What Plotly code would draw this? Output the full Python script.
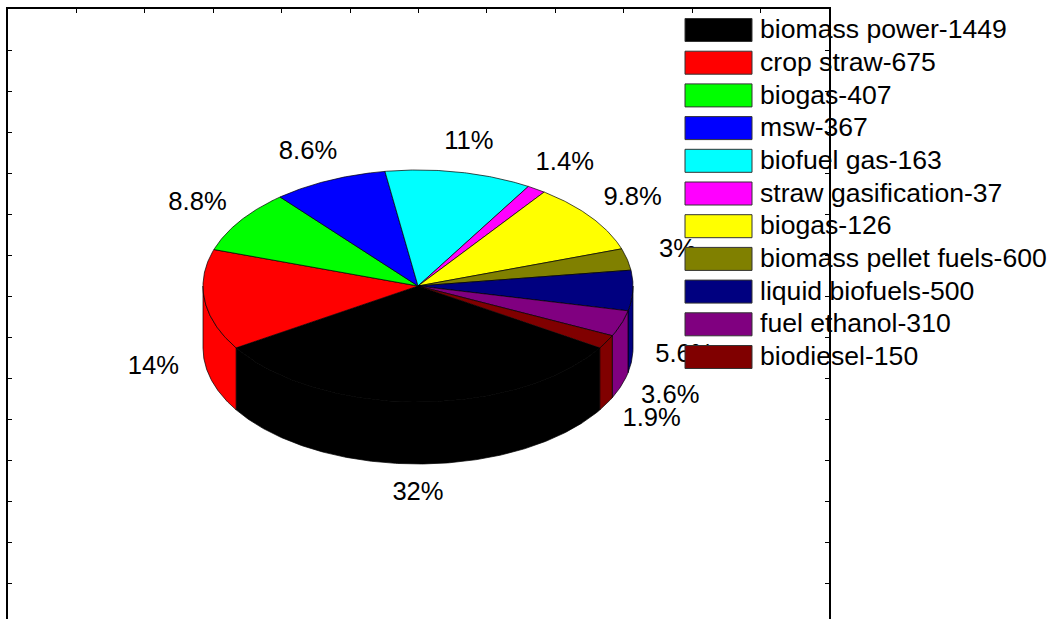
import numpy as np
import plotly.graph_objects as go

# ---------------- data ----------------
names = ["biomass power", "crop straw", "biogas", "msw", "biofuel gas",
         "straw gasification", "biogas", "biomass pellet fuels",
         "liquid biofuels", "fuel ethanol", "biodiesel"]
legend_values = [1449, 675, 407, 367, 163, 37, 126, 600, 500, 310, 150]
percent_values = [32, 14, 8.8, 8.6, 11, 1.4, 9.8, 3, 5.6, 3.6, 1.9]
percent_labels = ["32%", "14%", "8.8%", "8.6%", "11%", "1.4%", "9.8%",
                  "3%", "5.6%", "3.6%", "1.9%"]
colors = ["#000000", "#FF0000", "#00FF00", "#0000FF", "#00FFFF", "#FF00FF",
          "#FFFF00", "#808000", "#000080", "#800080", "#800000"]

# ---------------- geometry (axes in screen-pixel units) ----------------
CX, CY, A, B, H = 418, 286, 215, 116, 62
FONT = "Liberation Sans, Arial, Helvetica, sans-serif"

frac = np.array(percent_values, dtype=float) / sum(percent_values)
span = frac * 360.0
t_start = -90 + span[0] / 2
bounds = t_start - np.concatenate([[0.0], np.cumsum(span)])


def arc(t1, t2, dy=0.0, n=None):
    if n is None:
        n = max(4, int(abs(t2 - t1) * 2) + 2)
    t = np.radians(np.linspace(t1, t2, n))
    return CX + A * np.cos(t), CY - B * np.sin(t) + dy


fig = go.Figure()
EDGE = dict(color="black", width=0.7)

# side walls (front half only visible)
for i in range(len(percent_values)):
    hi, lo = bounds[i], bounds[i + 1]
    for vlo, vhi in [(-180, 0), (-540, -360)]:
        a1, a2 = max(lo, vlo), min(hi, vhi)
        if a2 - a1 <= 1e-6:
            continue
        xt, yt = arc(a2, a1)
        xb, yb = arc(a1, a2, dy=H)
        xs = np.concatenate([xt, xb, xt[:1]])
        ys = np.concatenate([yt, yb, yt[:1]])
        fig.add_trace(go.Scatter(x=xs, y=ys, mode="lines", fill="toself",
                                 fillcolor=colors[i], line=EDGE,
                                 hoverinfo="skip", showlegend=False))

# top faces
for i in range(len(percent_values)):
    hi, lo = bounds[i], bounds[i + 1]
    xa, ya = arc(hi, lo)
    xs = np.concatenate([[CX], xa, [CX]])
    ys = np.concatenate([[CY], ya, [CY]])
    fig.add_trace(go.Scatter(x=xs, y=ys, mode="lines", fill="toself",
                             fillcolor=colors[i], line=EDGE,
                             hoverinfo="skip", showlegend=False))

# percentage labels
lx, ly = [], []
for i in range(len(percent_values)):
    tm = np.radians((bounds[i] + bounds[i + 1]) / 2)
    R = 1.24
    lx.append(CX + R * A * np.cos(tm))
    ly.append(CY - R * B * np.sin(tm) + (H + 2 if np.sin(tm) < 0 else -2))
fig.add_trace(go.Scatter(x=lx, y=ly, mode="text", text=percent_labels,
                         textposition="middle center",
                         textfont=dict(family=FONT, size=25.6, color="black"),
                         cliponaxis=False, hoverinfo="skip", showlegend=False))

# legend (drawn manually, MATLAB style)
ROW0, ROWSTEP = 30, 32.7
SX0, SX1, SH = 685, 752, 23
for i in range(len(names)):
    yc = ROW0 + ROWSTEP * i
    fig.add_trace(go.Scatter(x=[SX0, SX1, SX1, SX0, SX0],
                             y=[yc - SH / 2, yc - SH / 2, yc + SH / 2, yc + SH / 2, yc - SH / 2],
                             mode="lines", fill="toself", fillcolor=colors[i],
                             line=dict(color="#333333", width=1),
                             hoverinfo="skip", showlegend=False))
leg_text = [f"{n}-{v}" for n, v in zip(names, legend_values)]
fig.add_trace(go.Scatter(x=[760] * len(names),
                         y=[ROW0 + 1.5 + ROWSTEP * i for i in range(len(names))],
                         mode="text", text=leg_text, textposition="middle right",
                         textfont=dict(family=FONT, size=26.6, color="black"),
                         cliponaxis=False, hoverinfo="skip", showlegend=False))

# plot area on screen: x 8..829, y 9..619 (bottom edge beyond view)
L, T, RGT = 8, 9, 829
W = RGT - L
fig.update_layout(
    width=1056, height=619,
    margin=dict(l=L, r=1056 - RGT, t=T, b=0, pad=0),
    paper_bgcolor="white", plot_bgcolor="white",
    showlegend=False,
    xaxis=dict(range=[L, RGT], side="top", showline=True, linecolor="black",
               linewidth=2, mirror=False, ticks="inside", ticklen=4,
               tickwidth=1, tickcolor="black", tick0=L, dtick=W / 12,
               showticklabels=False, showgrid=False, zeroline=False,
               fixedrange=True),
    yaxis=dict(range=[619, T], showline=True, linecolor="black",
               linewidth=2, mirror="ticks", ticks="inside", ticklen=4,
               tickwidth=1, tickcolor="black", tick0=T, dtick=41,
               showticklabels=False, showgrid=False, zeroline=False,
               fixedrange=True),
)

fig.write_html("out.html",
               config={"displayModeBar": False, "staticPlot": True},
               post_script="document.body.style.margin='0';document.body.style.overflow='hidden';")
